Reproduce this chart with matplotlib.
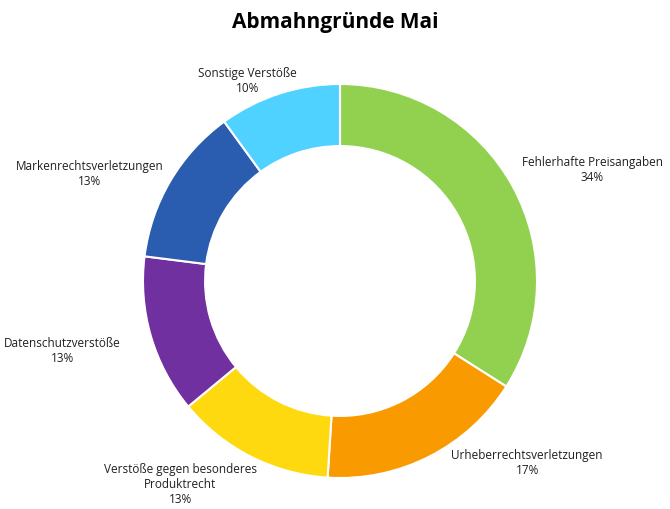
import matplotlib
matplotlib.use("Agg")
import matplotlib.pyplot as plt

categories = ["Fehlerhafte Preisangaben", "Urheberrechtsverletzungen",
              "Verstöße gegen besonderes\nProduktrecht", "Datenschutzverstöße",
              "Markenrechtsverletzungen", "Sonstige Verstöße"]
values = [34, 17, 13, 13, 13, 10]
colors = ["#92D050", "#F99A00", "#FFD910", "#7030A0", "#2A5DB0", "#4FD2FF"]
label_pos = [(1.28, 0.57), (0.95, -0.92), (-0.81, -1.03), (-1.41, -0.35), (-1.27, 0.55), (-0.47, 1.02)]

plt.rcParams["font.family"] = "Open Sans"
fig = plt.figure(figsize=(6.7, 5.1), dpi=100)
cx, cy, r = 340, 282, 197
ax = fig.add_axes([(cx - r) / 670, (510 - cy - r) / 510, 2 * r / 670, 2 * r / 510])
ax.pie(values, colors=colors, startangle=90, counterclock=False, radius=1,
       wedgeprops=dict(width=0.315, edgecolor="white", linewidth=1.5))
ax.set_xlim(-1, 1); ax.set_ylim(-1, 1)
ax.set_aspect("equal")
ax.axis("off")
total = sum(values)
for cat, v, (x, y) in zip(categories, values, label_pos):
    ax.text(x, y, f"{cat}\n{round(100 * v / total)}%", ha="center", va="center",
            fontsize=8.5, color="#202020", clip_on=False)
fig.text(0.5, 0.955, "Abmahngründe Mai", ha="center", va="center",
         fontsize=15, fontweight="bold")
fig.savefig("out.png", dpi=100)
